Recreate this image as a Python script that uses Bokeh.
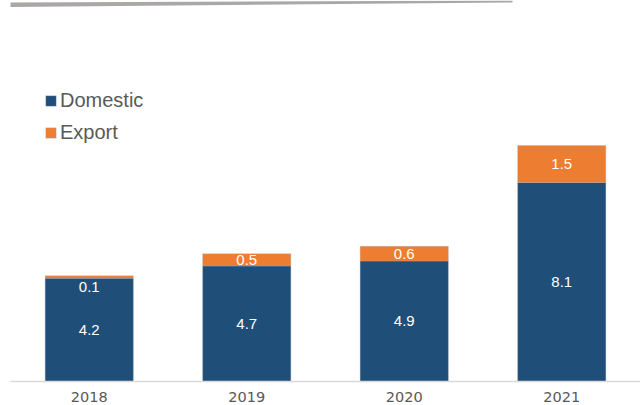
from bokeh.plotting import figure
from bokeh.models import ColumnDataSource, Range1d, FactorRange, Legend, LegendItem, PolyAnnotation, LabelSet
from bokeh.core.properties import value
from bokeh.embed import file_html
from bokeh.resources import INLINE

years = ["2018", "2019", "2020", "2021"]
domestic = [4.2, 4.7, 4.9, 8.1]
export = [0.1, 0.5, 0.6, 1.5]
series = ["domestic", "export"]
colors = ["#1f4e79", "#ed7d31"]

dom_mid = [d / 2 for d in domestic]
exp_mid = []
exp_off = []
for d, e in zip(domestic, export):
    if e < 0.3:
        exp_mid.append(d + e)
        exp_off.append(-11)
    else:
        exp_mid.append(d + e / 2)
        exp_off.append(0)

src = ColumnDataSource(dict(
    years=years, domestic=domestic, export=export,
    dom_mid=dom_mid, exp_mid=exp_mid, exp_off=exp_off,
    dom_lbl=[f"{v:.1f}" for v in domestic],
    exp_lbl=[f"{v:.1f}" for v in export],
))

p = figure(width=640, height=405, x_range=FactorRange(*years, range_padding=0),
           y_range=Range1d(0, 15.5), output_backend="svg", toolbar_location=None,
           min_border_left=10, min_border_right=0, min_border_top=0, min_border_bottom=24)
p.outline_line_color = None
p.background_fill_color = "white"
p.border_fill_color = "white"

rs = p.vbar_stack(series, x="years", width=0.56, color=colors, source=src,
                  line_color="#9db3cc", line_width=0.5, line_alpha=0.6)

p.add_layout(LabelSet(x="years", y="dom_mid", text="dom_lbl", source=src, text_color="white",
                      text_font=value("Liberation Sans"), text_font_size="15px",
                      text_align="center", text_baseline="middle"))
p.add_layout(LabelSet(x="years", y="exp_mid", text="exp_lbl", source=src, text_color="white",
                      text_font=value("Liberation Sans"), text_font_size="15px",
                      text_align="center", text_baseline="middle", y_offset="exp_off"))

p.yaxis.visible = False
p.xgrid.visible = False
p.ygrid.visible = False
ax = p.xaxis[0]
ax.axis_line_color = "#d9d9d9"
ax.axis_line_width = 1.5
ax.major_tick_line_color = None
ax.minor_tick_line_color = None
ax.major_tick_out = 0
ax.major_tick_in = 0
ax.major_label_standoff = 10
ax.major_label_text_font = "DejaVu Sans"
ax.major_label_text_font_size = "14.5px"
ax.major_label_text_color = "#595959"

legend = Legend(items=[LegendItem(label="Domestic", renderers=[rs[0]]),
                       LegendItem(label="Export", renderers=[rs[1]])],
                location="top_left", border_line_color=None, background_fill_alpha=0,
                label_text_font="Liberation Sans", label_text_font_size="20px",
                label_text_color="#595959", glyph_width=13, glyph_height=13,
                label_standoff=3, spacing=8, label_height=24, margin=0, padding=0)
legend.location = (34, 237)
p.add_layout(legend)

p.add_layout(PolyAnnotation(xs=[0, 512, 512, 0], ys=[2, 0, 2, 6.5],
                            xs_units="canvas", ys_units="canvas",
                            fill_color="#aaa7a7", fill_alpha=1, line_color=None))

open("out.html", "w").write(file_html(p, INLINE))
